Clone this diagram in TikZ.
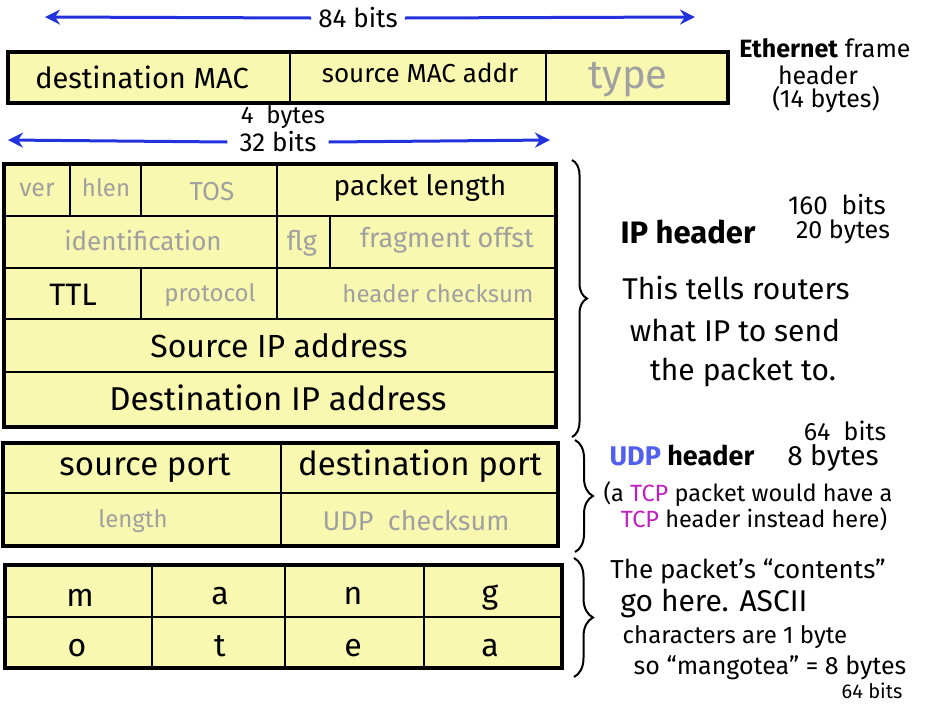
\documentclass[tikz,border=0pt]{standalone}
\usepackage{fontspec}
\setmainfont{Fira Sans}
\usetikzlibrary{arrows.meta,decorations.pathreplacing}
\definecolor{boxfill}{HTML}{F8F8B0}
\definecolor{graytext}{HTML}{A0A0A0}
\definecolor{arrowblue}{HTML}{2233DD}
\definecolor{udpblue}{HTML}{5060F0}
\definecolor{tcpmag}{HTML}{C020C0}
\newcommand{\fsz}[1]{\fontsize{#1}{#1}\selectfont}
\begin{document}
\begin{tikzpicture}[x=1pt,y=-1pt,
  outerbox/.style={draw=black,line width=3.5pt,fill=boxfill},
  innerline/.style={draw=black,line width=2pt},
  thinline/.style={draw=black,line width=1.5pt},
  txt/.style={inner sep=0pt,text=black},
  gtxt/.style={inner sep=0pt,text=graytext},
  barrow/.style={draw=arrowblue,line width=3pt,-{Stealth[length=15pt,width=15pt]}},
  bracestyle/.style={draw=black,line width=2pt,decorate,decoration={brace,amplitude=#1}},
]
\useasboundingbox (0,0) rectangle (925,705);

% ---------- top arrow ----------
\coordinate (a84l) at (45,17);
\coordinate (a84r) at (695,17);
\node[txt,inner xsep=7pt,font=\fsz{26}] (t84) at (358,18) {84 bits};
\draw[barrow] (t84.west) -- (a84l);
\draw[barrow] (t84.east) -- (a84r);

% ---------- Ethernet header ----------
\draw[outerbox] (8,52) rectangle (728,103);
\draw[thinline] (290,52) -- (290,103);
\draw[thinline] (546,52) -- (546,103);
\node[txt,font=\fsz{29}] (dmac) at (142,77) {destination MAC};
\node[txt,font=\fsz{26}] (smac) at (420,73) {source MAC addr};
\node[gtxt,font=\fsz{40}] (etype) at (628,80) {type};
\node[txt,font=\fsz{25}] (eth1) at (825,48) {\textbf{Ethernet} frame};
\node[txt,font=\fsz{25}] (eth2) at (818,75) {header};
\node[txt,font=\fsz{25}] (eth3) at (826,100) {(14 bytes)};

% ---------- 32 bits arrow ----------
\node[txt,font=\fsz{24}] (t4) at (283,117) {4\ \ bytes};
\coordinate (a32l) at (8,140);
\coordinate (a32r) at (550,140);
\node[txt,inner xsep=12pt,font=\fsz{26}] (t32) at (278,142) {32 bits};
\draw[barrow] (t32.west) -- (a32l);
\draw[barrow] (t32.east) -- (a32r);

% ---------- IP header ----------
\draw[outerbox] (4,164) rectangle (556,427);
\foreach \yy in {216,268,319,372} \draw[innerline] (4,\yy) -- (556,\yy);
\draw[innerline] (70,164) -- (70,216);
\draw[innerline] (141,164) -- (141,216);
\draw[innerline] (277,164) -- (277,319);
\draw[innerline] (330,216) -- (330,268);
\draw[innerline] (141,268) -- (141,319);
\node[gtxt,font=\fsz{25}] (ver) at (37,190) {ver};
\node[gtxt,font=\fsz{24}] (hlen) at (106,188) {hlen};
\node[gtxt,font=\fsz{26}] (tos) at (212,192) {TOS};
\node[txt,font=\fsz{28}] (plen) at (420,188) {packet length};
\node[gtxt,font=\fsz{26}] (ident) at (143,241) {identification};
\node[gtxt,font=\fsz{27}] (flg) at (302,243) {flg};
\node[gtxt,font=\fsz{27}] (frag) at (447,240) {fragment offst};
\node[txt,font=\fsz{31}] (ttl) at (73,295) {TTL};
\node[gtxt,font=\fsz{24}] (proto) at (210,295) {protocol};
\node[gtxt,font=\fsz{24}] (hcs) at (438,294) {header checksum};
\node[txt,font=\fsz{32}] (srcip) at (279,346) {Source IP address};
\node[txt,font=\fsz{33}] (dstip) at (278,398) {Destination IP address};

% ---------- UDP header ----------
\draw[outerbox] (3,443) rectangle (558,546);
\draw[innerline] (3,493) -- (558,493);
\draw[innerline] (281,443) -- (281,546);
\node[txt,font=\fsz{33}] (sport) at (145,468) {source port};
\node[txt,font=\fsz{33}] (dport) at (420,466) {destination port};
\node[gtxt,font=\fsz{24}] (ulen) at (133,521) {length};
\node[gtxt,font=\fsz{27}] (ucs) at (416,521) {UDP\ \ checksum};

% ---------- data ----------
\draw[outerbox] (5,565) rectangle (562,668);
\draw[innerline] (5,617) -- (562,617);
\foreach \xx in {152,285,424} \draw[innerline] (\xx,565) -- (\xx,668);
\node[txt,font=\fsz{32}] (c1) at (80,598) {m};
\node[txt,font=\fsz{32}] (c2) at (220,596) {a};
\node[txt,font=\fsz{32}] (c3) at (353,596) {n};
\node[txt,font=\fsz{32}] (c4) at (490,598) {g};
\node[txt,font=\fsz{32}] (c5) at (77,648) {o};
\node[txt,font=\fsz{32}] (c6) at (220,646) {t};
\node[txt,font=\fsz{32}] (c7) at (353,648) {e};
\node[txt,font=\fsz{32}] (c8) at (490,648) {a};

% ---------- braces ----------
\coordinate (bipt) at (572,160);
\coordinate (bipb) at (572,437);
\draw[bracestyle=15pt] (bipt) -- (bipb);
\coordinate (budt) at (575,440);
\coordinate (budb) at (575,552);
\draw[bracestyle=18pt] (budt) -- (budb);
\coordinate (bdat) at (574,558);
\coordinate (bdab) at (574,677);
\draw[bracestyle=19pt] (bdat) -- (bdab);

% ---------- IP notes ----------
\node[txt,font=\fsz{26}] (ipbits) at (837,205) {160\ \ bits};
\node[txt,font=\bfseries\fsz{31}] (iph) at (688,232) {IP header};
\node[txt,font=\fsz{25}] (ipbytes) at (843,232) {20 bytes};
\node[txt,font=\fsz{30}] (ipn1) at (736,288) {This tells routers};
\node[txt,font=\fsz{30}] (ipn2) at (735,330) {what IP to send};
\node[txt,font=\fsz{30}] (ipn3) at (743,372) {the packet to.};

% ---------- UDP notes ----------
\node[txt,font=\fsz{25}] (udpbits) at (845,431) {64\ \ bits};
\node[txt,font=\bfseries\fsz{27}] (udph) at (682,455) {{\color{udpblue}UDP} header};
\node[txt,font=\fsz{28}] (udpbytes) at (833,458) {8\ bytes};
\node[txt,font=\fsz{23.5}] (tcp1) at (748,494) {(a {\color{tcpmag}TCP} packet would have a};
\node[txt,font=\fsz{23.5}] (tcp2) at (754,519) {{\color{tcpmag}TCP} header instead here)};

% ---------- data notes ----------
\node[txt,font=\fsz{26}] (dn1) at (748,571) {The packet's “contents”};
\node[txt,font=\fsz{30}] (dn2) at (714,603) {go here. ASCII};
\node[txt,font=\fsz{24}] (dn3) at (735,637) {characters are 1 byte};
\node[txt,font=\fsz{25}] (dn4) at (770,668) {so “mangotea” = 8 bytes};
\node[txt,font=\fsz{20}] (dn5) at (872,691) {64 bits};
\end{tikzpicture}
\end{document}
